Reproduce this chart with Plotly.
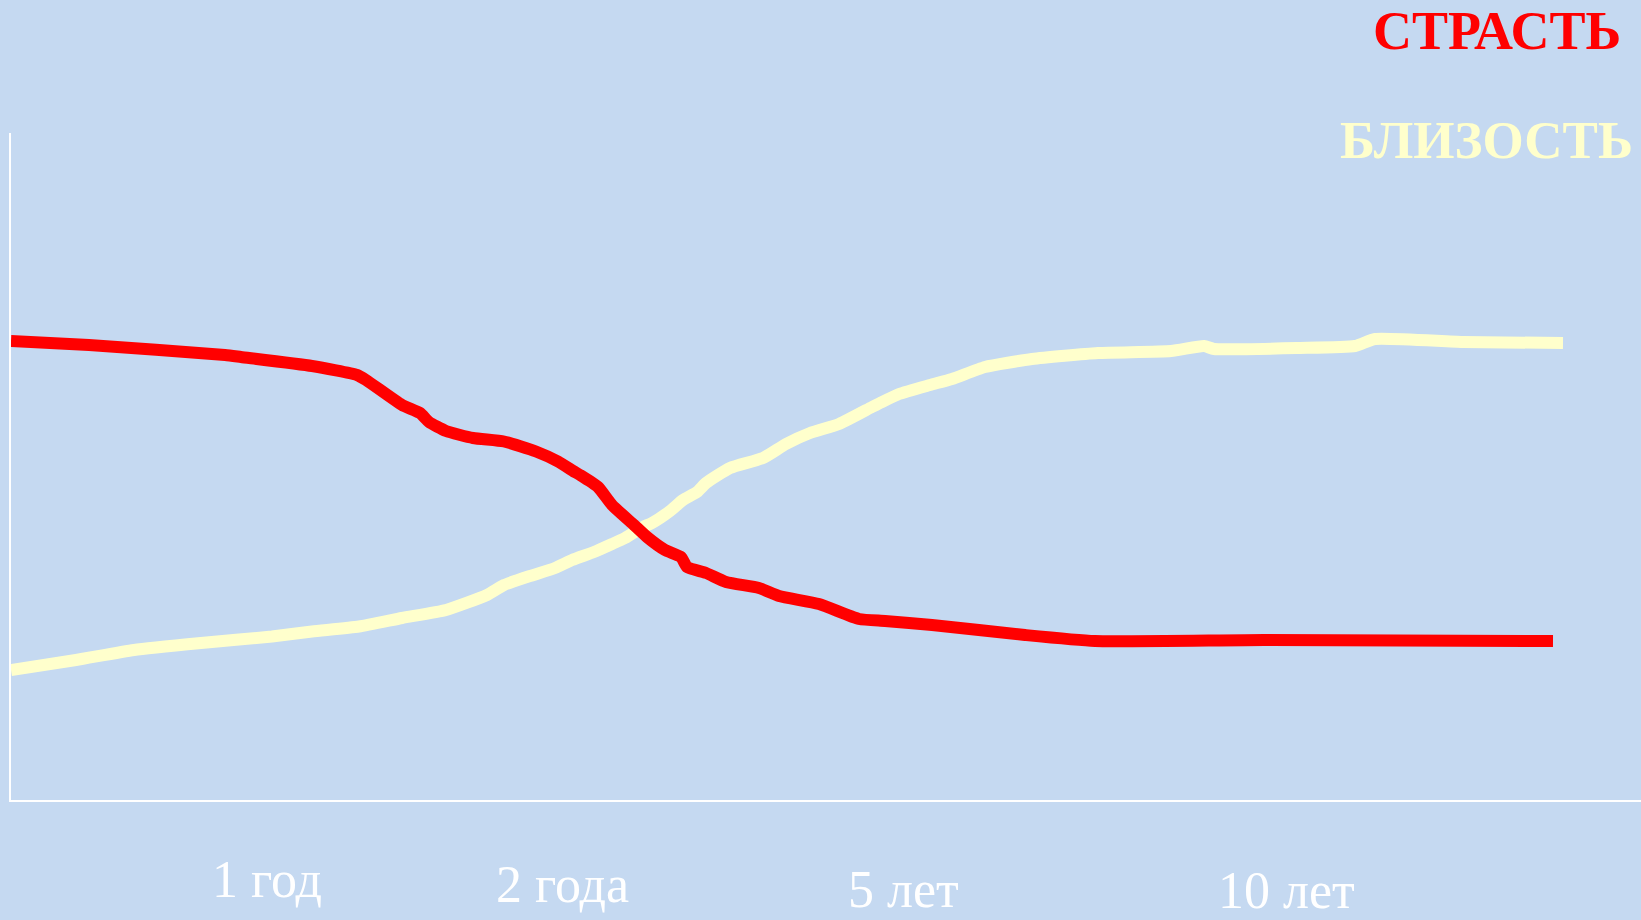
import plotly.graph_objects as go

# Time axis (arbitrary units along the horizontal axis) and intensity levels
passion_x = [0, 78, 214, 230, 301, 346, 355, 391, 409, 418, 435, 462, 493, 525, 547, 563, 569, 587,
             601, 623, 636, 654, 670, 676, 695, 715, 748, 768, 808, 848, 874, 921, 1014, 1084, 1253, 1542]
passion_y = [459, 455, 445, 443, 434, 425, 420, 395, 387, 378, 369, 362, 358.5, 348.5, 338.5, 328.5, 325, 313,
             295, 275, 263, 250, 243, 233, 227, 218, 212, 204, 196, 181, 179, 175, 165, 159, 160, 159]

intimacy_x = [0, 65, 123, 190, 261, 301, 348, 391, 435, 476, 493, 519, 544, 561, 583, 601, 614, 632, 641,
              659, 672, 686, 695, 719, 752, 775, 799, 828, 861, 869, 888, 919, 941, 974, 1021, 1087, 1160,
              1193, 1203, 1289, 1344, 1364, 1452, 1552]
intimacy_y = [130, 140, 150, 157, 163.5, 168.5, 173.5, 182, 190, 205, 215, 224, 232, 240, 248, 256, 262, 273, 277,
              289, 300, 308, 317, 332, 342, 356, 367, 376, 393, 397, 406, 415, 421, 433, 441, 447, 449,
              454, 451, 452, 454, 461, 458, 457]

time_labels = ["1 год", "2 года", "5 лет", "10 лет"]
series_names = ["СТРАСТЬ", "БЛИЗОСТЬ"]

W, H = 1641, 920
ML, MR, MT, MB = 11, 0, 133, 120
PW, PH = W - ML - MR, H - MT - MB
X_RANGE = [0, 1630]
Y_RANGE = [0, 667]

BG = "#C5D9F1"
RED = "#FF0000"
YEL = "#FFFFCC"
SERIF = "Liberation Serif, Times New Roman, serif"


def paper_xy(px, py):
    """page pixel -> paper coords of the plot area"""
    return (px - ML) / PW, (H - MB - py) / PH


# page-pixel centres of the time labels
label_px = [267, 562, 904, 1286]
label_py = [879, 884, 889, 890]

fig = go.Figure()
fig.add_trace(go.Scatter(x=intimacy_x, y=intimacy_y, mode="lines", name=series_names[1],
                         line=dict(color=YEL, width=12, shape="spline", smoothing=0.5),
                         cliponaxis=False))
fig.add_trace(go.Scatter(x=passion_x, y=passion_y, mode="lines", name=series_names[0],
                         line=dict(color=RED, width=12, shape="spline", smoothing=0.5),
                         cliponaxis=False))

for t, px, py in zip(time_labels, label_px, label_py):
    x, y = paper_xy(px, py)
    fig.add_annotation(x=x, y=y, xref="paper", yref="paper", text=t, showarrow=False,
                       font=dict(family=SERIF, size=52, color="white"),
                       xanchor="center", yanchor="middle")

x, y = paper_xy(1623, 31)
fig.add_annotation(x=x, y=y, xref="paper", yref="paper",
                   text="<b>" + series_names[0] + "</b>", showarrow=False,
                   font=dict(family=SERIF, size=54, color=RED),
                   xanchor="right", yanchor="middle")
x, y = paper_xy(1635, 140)
fig.add_annotation(x=x, y=y, xref="paper", yref="paper",
                   text="<b>" + series_names[1] + "</b>", showarrow=False,
                   font=dict(family=SERIF, size=53, color=YEL),
                   xanchor="right", yanchor="middle")

fig.update_layout(
    width=W, height=H,
    paper_bgcolor=BG, plot_bgcolor=BG,
    margin=dict(l=ML, r=MR, t=MT, b=MB),
    showlegend=False,
    xaxis=dict(range=X_RANGE, showgrid=False, zeroline=False, showticklabels=False,
               showline=True, linecolor="white", linewidth=2, ticks=""),
    yaxis=dict(range=Y_RANGE, showgrid=False, zeroline=False, showticklabels=False,
               showline=True, linecolor="white", linewidth=2, ticks=""),
)

fig.write_html("out.html")
